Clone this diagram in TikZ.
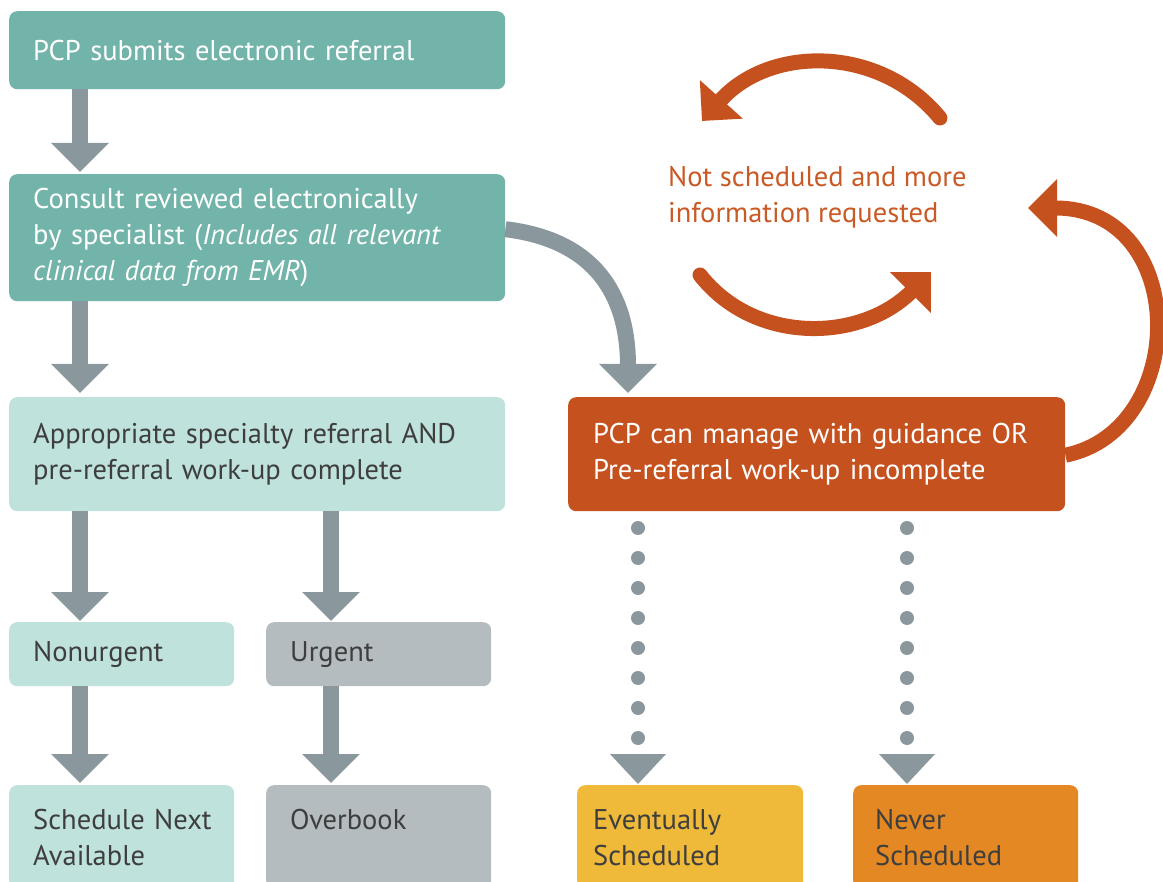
\documentclass[tikz,border=0pt]{standalone}
\usepackage{fontspec}
\setmainfont{PT Sans}
\usetikzlibrary{arrows.meta,calc}
\definecolor{cTeal}{HTML}{72B4A9}
\definecolor{cLight}{HTML}{BFE3DC}
\definecolor{cGBox}{HTML}{B5BCBF}
\definecolor{cOrange}{HTML}{C5511F}
\definecolor{cOrText}{HTML}{C95A26}
\definecolor{cGray}{HTML}{8A979C}
\definecolor{cYellow}{HTML}{EFB93A}
\definecolor{cNever}{HTML}{E48823}
\definecolor{cDark}{HTML}{3E3E3E}
\newcommand\myfs{\fontsize{28.5}{36}\selectfont}
\tikzset{
  bx/.style={rectangle, rounded corners=8pt, inner xsep=24pt, inner ysep=0pt, align=left, anchor=north west, font=\myfs},
  garrow/.style={draw=cGray, line width=16pt, -{Triangle[width=56pt,length=29pt]}},
  oarrow/.style={draw=cOrange, line width=15pt, line cap=round, -{Triangle[width=56pt,length=29pt]}},
  dotline/.style={draw=cGray, line width=14pt, line cap=round, dash pattern=on 0pt off 30pt},
}
\begin{document}
\begin{tikzpicture}[x=1pt,y=-1pt]
\useasboundingbox (0,0) rectangle (1163,882);
\clip (0,0) rectangle (1163,882);
% boxes
\node[bx, fill=cTeal, text=white, text width=448pt, minimum height=78pt] (b1) at (9,11) {PCP submits electronic referral};
\node[bx, fill=cTeal, text=white, text width=448pt, minimum height=127pt] (b2) at (9,174) {Consult reviewed electronically\\by specialist (\textit{Includes all relevant}\\\textit{clinical data from EMR})};
\node[bx, fill=cLight, text=cDark, text width=448pt, minimum height=114pt] (b3) at (9,397) {Appropriate specialty referral AND\\pre-referral work-up complete};
\node[bx, fill=cOrange, text=white, inner xsep=25pt, text width=447pt, minimum height=114pt] (or) at (568,397) {PCP can manage with guidance OR\\Pre-referral work-up incomplete};
\node[bx, fill=cLight, text=cDark, text width=177pt, minimum height=64pt] (nu) at (9,622) {Nonurgent};
\node[bx, fill=cGBox, text=cDark, text width=177pt, minimum height=64pt] (ur) at (266,622) {Urgent};
\node[bx, fill=cLight, text=cDark, text width=177pt, minimum height=104pt] (sn) at (9,785) {\mbox{Schedule Next}\\Available};
\node[bx, fill=cGBox, text=cDark, text width=177pt, minimum height=104pt] (ob) at (266,785) {Overbook\\\phantom{A}};
\node[bx, fill=cYellow, text=cDark, inner xsep=16pt, text width=194pt, minimum height=104pt] (ev) at (577,785) {Eventually\\Scheduled};
\node[bx, fill=cNever, text=cDark, inner xsep=22pt, text width=181pt, minimum height=104pt] (nv) at (853,785) {Never\\Scheduled};
\node[font=\myfs, text=cOrText, align=left, anchor=north west, inner sep=0pt] (nsi) at (668,166) {Not scheduled and more\\information requested};
% columns
\coordinate (colA) at (80,0);
\coordinate (colB) at (331,0);
% straight arrows
\draw[garrow] (b1.south -| colA) -- ([yshift=2pt]b2.north -| colA);
\draw[garrow] (b2.south -| colA) -- ([yshift=4pt]b3.north -| colA);
\draw[garrow] (b3.south -| colA) -- ([yshift=1pt]nu.north -| colA);
\draw[garrow] (b3.south -| colB) -- ([yshift=1pt]ur.north -| colB);
\draw[garrow] (nu.south -| colA) -- ([yshift=2pt]sn.north -| colA);
\draw[garrow] (ur.south -| colB) -- ([yshift=2pt]ob.north -| colB);
% curved gray arrow
\draw[garrow] ($(b2.east)+(0,-8.5)$) .. controls (595,240) and (628,295) .. ($(or.north west)+(60,-4)$);
% dotted connectors
\coordinate (d1a) at (638,528); \coordinate (d1b) at (638,739);
\coordinate (d2a) at (907,528); \coordinate (d2b) at (907,739);
\draw[dotline] (d1a) -- (d1b);
\draw[dotline] (d2a) -- (d2b);
\fill[cGray] ($(ev.north west)+(33,-31)$) -- ++(56,0) -- ++(-28,30) -- cycle;
\fill[cGray] ($(nv.north west)+(26,-31)$) -- ++(56,0) -- ++(-28,30) -- cycle;
% orange cycle
\coordinate (t1) at (940,118); \coordinate (t2) at (702,121);
\coordinate (u1) at (700,275); \coordinate (u2) at (931,272);
\draw[oarrow] (t1) .. controls (880,45) and (770,45) .. (t2);
\draw[oarrow] (u1) .. controls (755,345) and (861,342) .. (u2);
\coordinate (rr) at (1028,208);
\draw[oarrow, line cap=butt] ($(or.east)+(0,1)$) .. controls (1190,430) and (1190,208) .. (rr);
\end{tikzpicture}
\end{document}
